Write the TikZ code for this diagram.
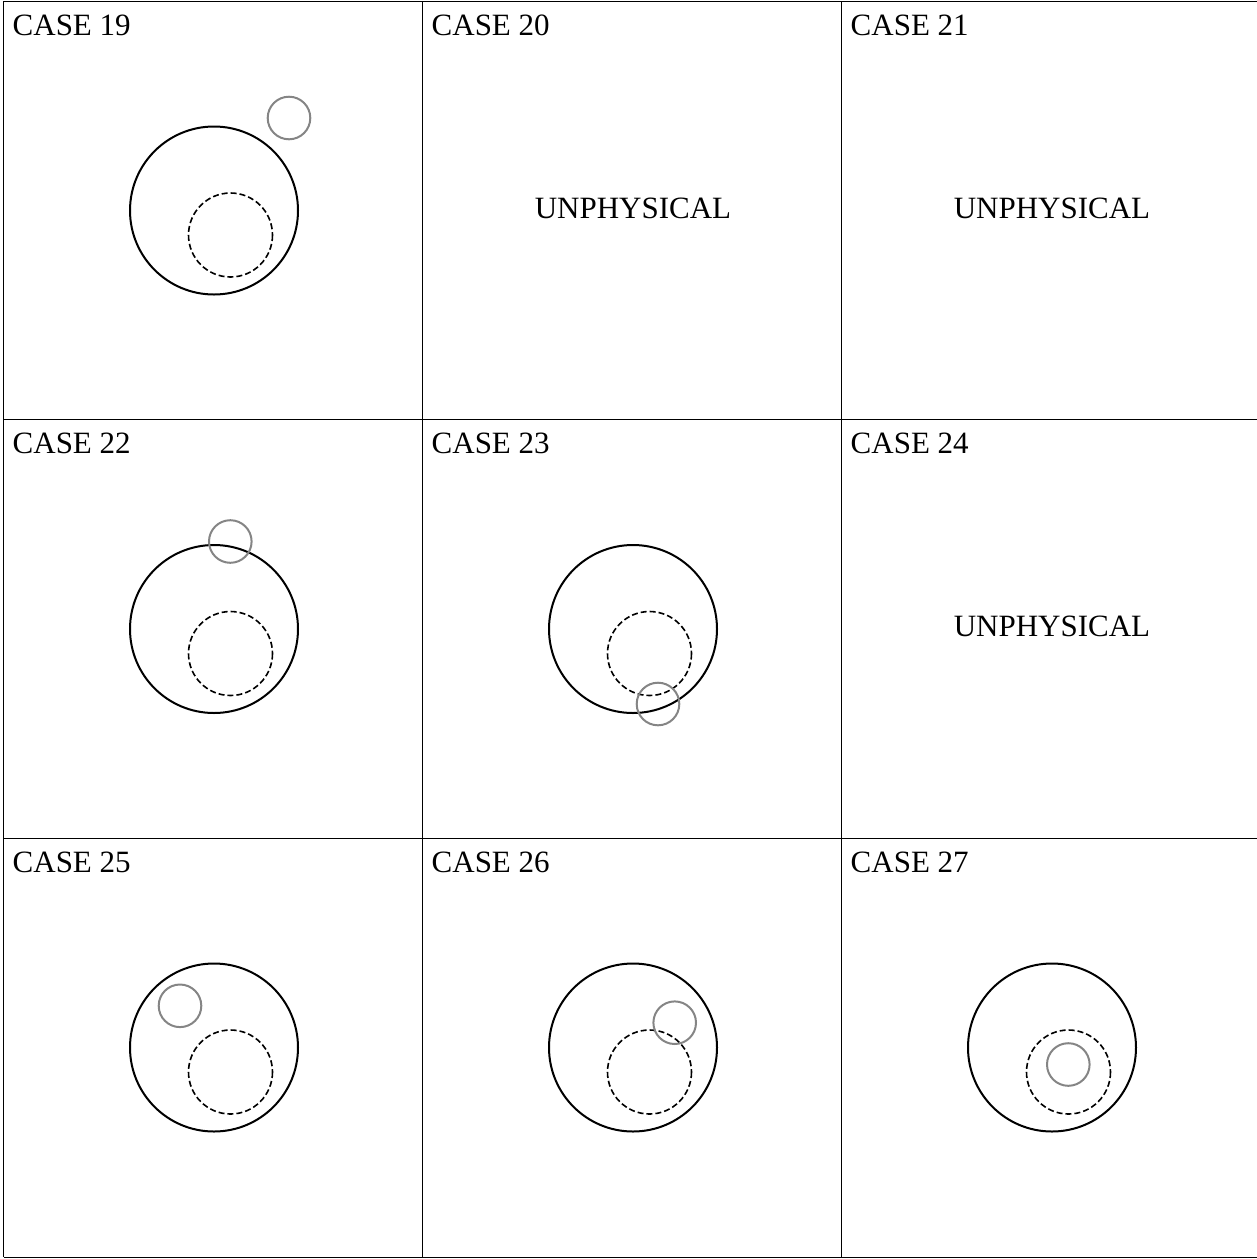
\documentclass[tikz,border=0pt]{standalone}
\usepackage{fontspec}
\setmainfont{Liberation Serif}

\begin{document}
\begin{tikzpicture}[x=1pt,y=-1pt,
  label text/.style={inner sep=0pt,font=\fontsize{31}{36}\selectfont},
  grid line/.style={line width=1pt},
  outer ring/.style={line width=2pt},
  inner ring/.style={line width=1.6pt,dash pattern=on 6pt off 3pt},
  probe ring/.style={line width=2pt,draw=black!48}]
\path[use as bounding box] (0,0) rectangle (1257,1259);
% table lines
\foreach \y in {1,419.5,838,1257}{
  \draw[grid line] (3.5,\y) -- (1257,\y);
}
\foreach \x in {3.5,422.5,841.5}{
  \draw[grid line] (\x,1) -- (\x,1257);
}
% case titles
\foreach \n [count=\i from 0] in {19,...,27}{
  \pgfmathtruncatemacro{\c}{mod(\i,3)}
  \pgfmathtruncatemacro{\r}{div(\i,3)}
  \node[label text,anchor=base west] (case\n) at ({3.5+419*\c+9},{1+418.5*\r+34}) {CASE \n};
}
% drawn cases: column/row/offset of the small ring
\foreach \c/\r/\px/\py in {0/0/75/-92.5, 0/1/16.3/-87.5, 1/1/25/75,
                           0/2/-34/-41.7, 1/2/41.7/-24.8, 2/2/16.3/17}{
  \draw[outer ring] ({3.5+419*\c+210.5},{1+418.5*\r+209.5}) circle(84);
  \draw[inner ring] ({3.5+419*\c+227},{1+418.5*\r+234}) circle(42);
  \draw[probe ring] ({3.5+419*\c+210.5+\px},{1+418.5*\r+209.5+\py}) circle(21.3);
}
% unphysical cases
\foreach \c/\r/\n in {1/0/20, 2/0/21, 2/1/24}{
  \node[label text,anchor=base] (unphys\n) at ({3.5+419*\c+210.5},{1+418.5*\r+217.3}) {UNPHYSICAL};
}
\end{tikzpicture}
\end{document}
